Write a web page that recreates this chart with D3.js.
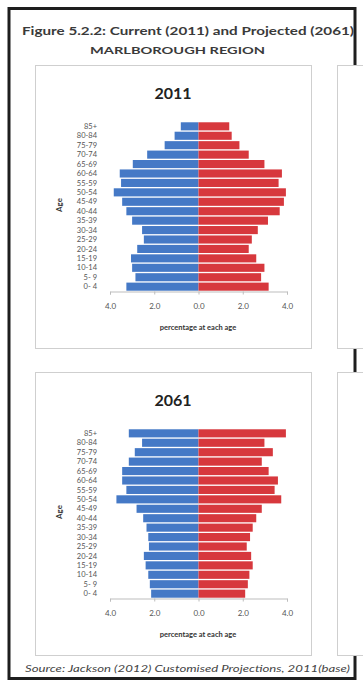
<!DOCTYPE html>
<html>
<head>
<meta charset="utf-8">
<script src="https://cdn.jsdelivr.net/npm/d3@7"></script>
<style>
  html, body { margin: 0; padding: 0; background: #fff; }
  svg { display: block; font-family: Lato, "Liberation Sans", sans-serif; }
</style>
</head>
<body>
<svg id="chart" width="363" height="684"></svg>
<script>
// ---- data ----
const ageGroups = ["0- 4","5- 9","10-14","15-19","20-24","25-29","30-34","35-39","40-44",
                   "45-49","50-54","55-59","60-64","65-69","70-74","75-79","80-84","85+"];
// percentages, ordered as ageGroups (youngest first)
const male2011   = [3.26,2.85,3.00,3.05,2.77,2.47,2.55,3.00,3.26,3.45,3.83,3.50,3.56,2.97,2.32,1.53,1.08,0.80];
const female2011 = [3.17,2.83,2.98,2.61,2.27,2.41,2.68,3.14,3.67,3.86,3.95,3.62,3.77,2.98,2.27,1.85,1.50,1.39];
const male2061   = [2.14,2.20,2.27,2.39,2.47,2.24,2.27,2.35,2.50,2.80,3.71,3.26,3.45,3.45,3.15,2.88,2.55,3.15];
const female2061 = [2.11,2.23,2.30,2.45,2.38,2.18,2.33,2.45,2.61,2.86,3.74,3.44,3.59,3.17,2.86,3.36,2.98,3.95];
const years = ["2011","2061"];
const tickValues = [-4,-2,0,2,4];
const figureTitle = "Figure 5.2.2: Current (2011) and Projected (2061)";
const regionTitle = "MARLBOROUGH REGION";
const sourceText = "Source: Jackson (2012) Customised Projections, 2011(base)";
const xTitle = "percentage at each age";
const yTitle = "Age";

const blue = "#4579c6", red = "#d7383d";

const svg = d3.select("#chart");

// outer frame
svg.append("rect").attr("x",9).attr("y",8.5).attr("width",346).attr("height",670)
  .attr("fill","#fff").attr("stroke","#1e1e1e").attr("stroke-width",3);

// titles
svg.append("text").attr("x",22).attr("y",35)
  .attr("font-size",12).attr("font-weight",700).attr("fill","#3a3a3a")
  .attr("textLength",332).attr("lengthAdjust","spacingAndGlyphs")
  .text(figureTitle);
svg.append("text").attr("x",90).attr("y",54)
  .attr("font-size",10).attr("font-weight",700).attr("fill","#3a3a3a")
  .attr("textLength",175).attr("lengthAdjust","spacingAndGlyphs")
  .text(regionTitle);
svg.append("text").attr("x",25).attr("y",671.5)
  .attr("font-size",10).attr("font-style","italic").attr("fill","#444")
  .attr("textLength",325).attr("lengthAdjust","spacingAndGlyphs")
  .text(sourceText);

const series = [
  {year: years[0], male: male2011, female: female2011},
  {year: years[1], male: male2061, female: female2061}
];

series.forEach((s, i) => {
  const dy = i * 307;
  // partially visible neighbour panel on the right
  svg.append("rect").attr("x",337.5).attr("y",65.5+dy).attr("width",30).attr("height",283)
    .attr("fill","#fff").attr("stroke","#cfcfcf").attr("stroke-width",1);
  // panel
  svg.append("rect").attr("x",35.5).attr("y",65.5+dy).attr("width",276).attr("height",283)
    .attr("fill","#fff").attr("stroke","#cfcfcf").attr("stroke-width",1);

  const g = svg.append("g").attr("transform",`translate(0,${dy})`);

  g.append("text").attr("x",173).attr("y",99)
    .attr("text-anchor","middle").attr("font-size",16).attr("font-weight",700)
    .attr("fill","#222").text(s.year);

  const x = d3.scaleLinear().domain([-4,4]).range([110,287]);
  const y = d3.scaleBand().domain(ageGroups.slice().reverse()).range([122,291]).paddingInner(0.14).paddingOuter(0.03);

  const rows = ageGroups.map((a, k) => ({age: a, m: s.male[k], f: s.female[k]}));

  g.selectAll("rect.m").data(rows).join("rect").attr("class","m")
    .attr("x", d => x(-d.m)).attr("width", d => x(0) - x(-d.m))
    .attr("y", d => y(d.age)).attr("height", y.bandwidth())
    .attr("fill", blue);
  g.selectAll("rect.f").data(rows).join("rect").attr("class","f")
    .attr("x", x(0)).attr("width", d => x(d.f) - x(0))
    .attr("y", d => y(d.age)).attr("height", y.bandwidth())
    .attr("fill", red);

  // y labels
  g.selectAll("text.age").data(ageGroups).join("text").attr("class","age")
    .attr("x",97).attr("y", d => y(d) + y.bandwidth()/2)
    .attr("dy","0.35em").attr("text-anchor","end")
    .attr("font-size",7.5).attr("fill","#555").text(d => d);

  g.append("text").attr("transform","translate(62,205) rotate(-90)")
    .attr("text-anchor","middle").attr("font-size",8).attr("font-weight",700)
    .attr("fill","#333").text(yTitle);

  // x axis
  const ax = g.append("g").attr("transform","translate(0,291.5)")
    .call(d3.axisBottom(x).tickValues(tickValues).tickSize(3).tickPadding(9)
      .tickFormat(d => Math.abs(d).toFixed(1)));
  ax.select(".domain").attr("stroke","#bdbdbd");
  ax.selectAll(".tick line").attr("stroke","#bdbdbd");
  ax.selectAll(".tick text").attr("font-size",8).attr("fill","#555")
    .attr("font-family","Lato, 'Liberation Sans', sans-serif");

  g.append("text").attr("x",198).attr("y",330)
    .attr("text-anchor","middle").attr("font-size",7.5).attr("font-weight",700)
    .attr("fill","#333").text(xTitle);
});
</script>
</body>
</html>
